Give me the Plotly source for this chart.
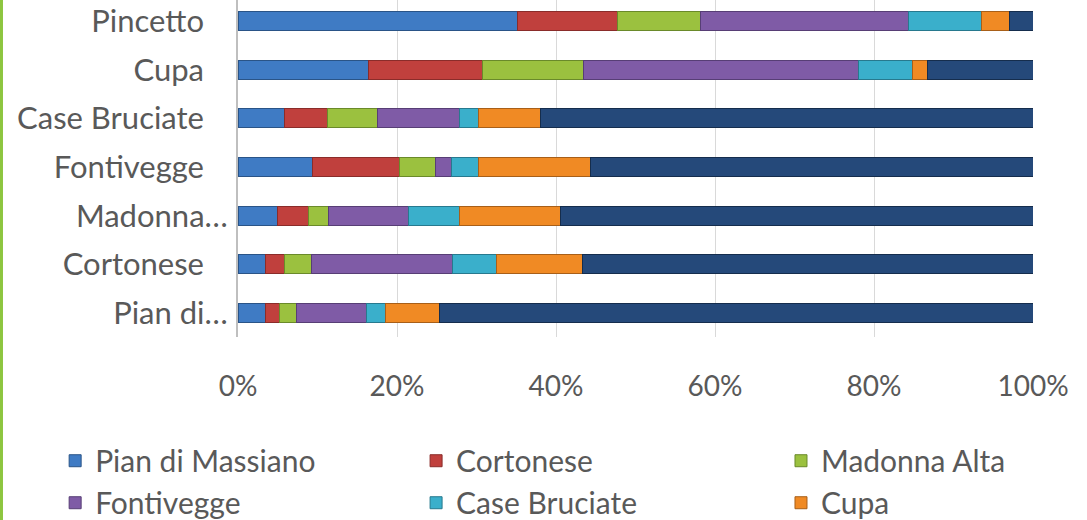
import plotly.graph_objects as go

categories = ["Pian di Massiano", "Cortonese", "Madonna Alta", "Fontivegge",
              "Case Bruciate", "Cupa", "Pincetto"]
tick_labels = ["Pian di…", "Cortonese\u00a0\u00a0\u00a0", "Madonna…", "Fontivegge\u00a0\u00a0\u00a0",
               "Case Bruciate\u00a0\u00a0\u00a0", "Cupa\u00a0\u00a0\u00a0", "Pincetto\u00a0\u00a0\u00a0"]

series_names = ["Pian di Massiano", "Cortonese", "Madonna Alta", "Fontivegge",
                "Case Bruciate", "Cupa", "Pincetto"]

# values per series, ordered as categories (bottom to top)
pian_di_massiano = [3.5, 3.5, 5.0, 9.4, 5.9, 16.4, 35.1]
cortonese = [1.7, 2.3, 3.9, 10.9, 5.3, 14.4, 12.6]
madonna_alta = [2.1, 3.4, 2.5, 4.5, 6.4, 12.6, 10.5]
fontivegge = [8.9, 17.8, 10.1, 2.1, 10.3, 34.7, 26.2]
case_bruciate = [2.4, 5.5, 6.3, 3.4, 2.3, 6.7, 9.1]
cupa = [6.7, 10.8, 12.8, 14.1, 7.8, 1.9, 3.5]
pincetto = [74.7, 56.7, 59.4, 55.6, 62.0, 13.3, 3.0]

x_ticks = [0, 20, 40, 60, 80, 100]
x_tick_labels = ["0%", "20%", "40%", "60%", "80%", "100%"]

series_values = [pian_di_massiano, cortonese, madonna_alta, fontivegge,
                 case_bruciate, cupa, pincetto]
colors = ["#3F7BC4", "#C0403D", "#9BC13F", "#7F5BA6", "#3AAFCB", "#F08A24", "#25497A"]
edges = ["#2A5487", "#8A2C2A", "#6A8A2A", "#573E75", "#27798E", "#A85F18", "#152D4D"]
# legend column of each series (legend grid is 3 columns, Pincetto row is off-image)
legend_ids = ["legend", "legend2", "legend3", "legend", "legend2", "legend3", None]

font_family = "Lato, 'Open Sans', sans-serif"
text_color = "#595959"
fs = 30

fig = go.Figure()
for name, vals, c, e, lg in zip(series_names, series_values, colors, edges, legend_ids):
    fig.add_trace(go.Bar(
        y=categories, x=vals, name=name, orientation="h",
        marker=dict(color=c, line=dict(color=e, width=1)),
        showlegend=lg is not None,
        legend=lg if lg else "legend",
    ))

def legend_cfg(xpos):
    return dict(
        orientation="v", x=xpos, y=-0.29, xanchor="left", yanchor="top",
        font=dict(family=font_family, size=fs, color=text_color),
        traceorder="normal", itemwidth=30, tracegroupgap=0,
        bgcolor="rgba(0,0,0,0)",
    )

fig.update_layout(
    width=1087, height=520,
    barmode="stack", barnorm="percent", bargap=0.61,
    paper_bgcolor="white", plot_bgcolor="white",
    margin=dict(l=238, r=54, t=0, b=183, autoexpand=False),
    font=dict(family=font_family, size=fs, color=text_color),
    legend=legend_cfg(-0.23),
    legend2=legend_cfg(0.224),
    legend3=legend_cfg(0.683),
    shapes=[dict(type="line", xref="paper", yref="paper",
                 x0=-0.2975, x1=-0.2975, y0=-0.6, y1=1.1,
                 line=dict(color="#8DC63F", width=3))],
)

fig.update_xaxes(
    range=[0, 100], tickvals=x_ticks, ticktext=x_tick_labels,
    showgrid=True, gridcolor="#D9D9D9", gridwidth=1,
    zeroline=False, showline=False, ticks="",
    ticklabelstandoff=30,
    tickfont=dict(family=font_family, size=28, color=text_color),
)
fig.update_yaxes(
    type="category", categoryorder="array", categoryarray=categories,
    tickvals=categories, ticktext=tick_labels,
    range=[-0.493, 6.431],
    showline=True, linecolor="#BFBFBF", linewidth=2,
    showgrid=False, ticks="", ticklabelstandoff=2,
    tickfont=dict(family=font_family, size=31, color=text_color),
)

fig.write_html("out.html", config={"displayModeBar": False},
               post_script="document.body.style.margin='0';")
